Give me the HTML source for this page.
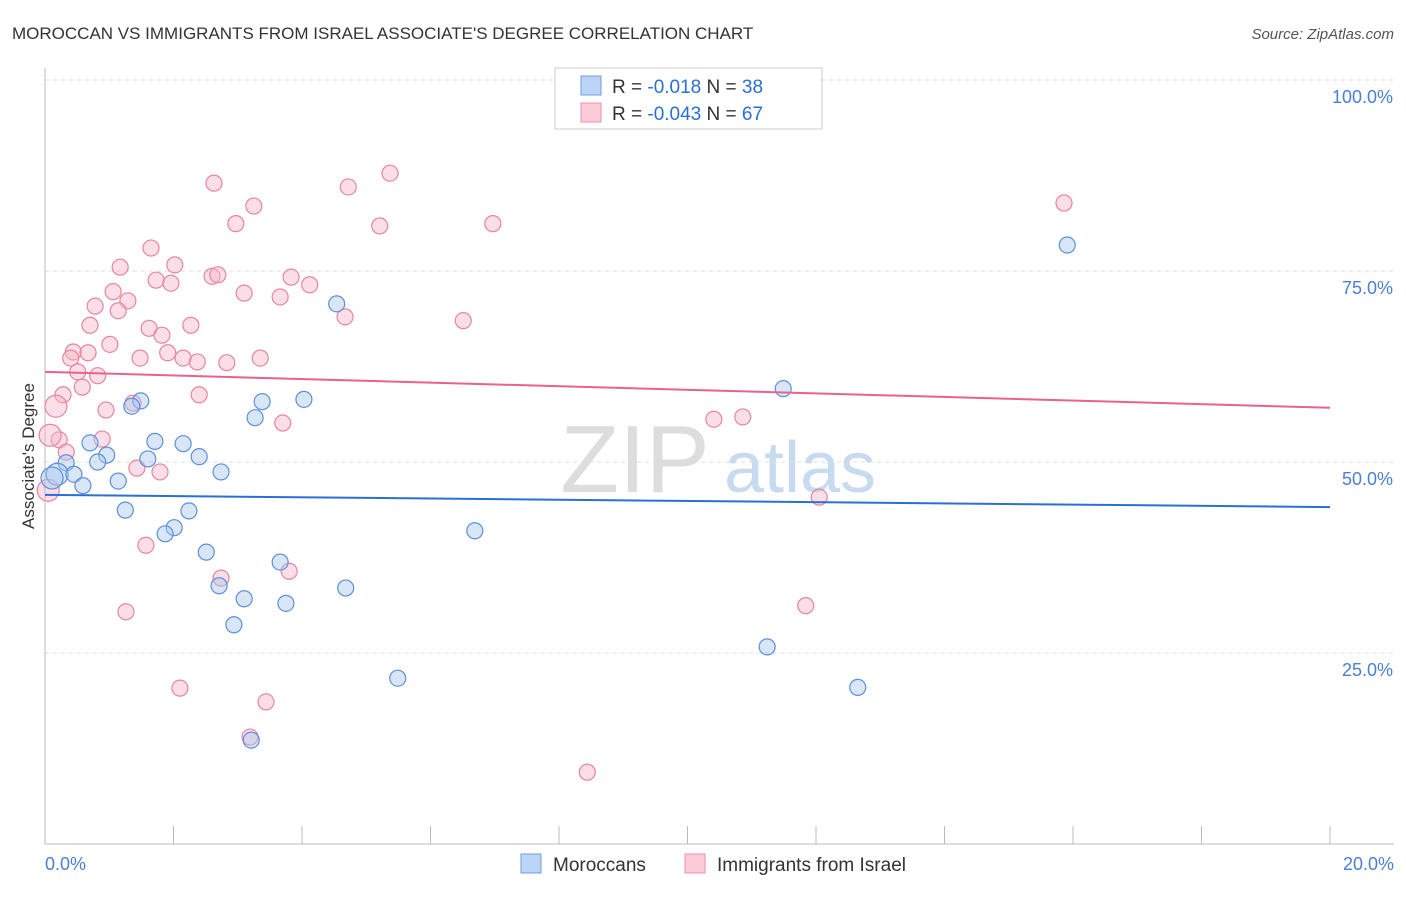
<!DOCTYPE html>
<html><head><meta charset="utf-8"><style>
body{margin:0;background:#fff;font-family:"Liberation Sans",sans-serif;}
svg text{font-family:"Liberation Sans",sans-serif;}
</style></head><body>
<svg id="chart" width="1406" height="892" xmlns="http://www.w3.org/2000/svg">
<text x="12" y="39" font-size="17" fill="#333">MOROCCAN VS IMMIGRANTS FROM ISRAEL ASSOCIATE'S DEGREE CORRELATION CHART</text>
<text x="1394" y="39" font-size="15" fill="#555" text-anchor="end" font-style="italic">Source: ZipAtlas.com</text>
<text x="635" y="492" font-size="96" fill="#ddd" font-family="Liberation Serif" text-anchor="middle">ZIP</text>
<text x="800" y="492" font-size="72" fill="#c8daf0" text-anchor="middle">atlas</text>
<g id="grid"></g><g id="axes"></g><g id="pts"></g><g id="trend"></g>
<text transform="translate(34,456) rotate(-90)" font-size="17" fill="#333" text-anchor="middle">Associate's Degree</text>
<text x="45" y="870" font-size="18" fill="#4a7fd4">0.0%</text>
<text x="1394" y="870" font-size="18" fill="#4a7fd4" text-anchor="end">20.0%</text>
<g>
<rect x="555" y="68" width="267" height="61" fill="#fff" stroke="#ccc"/>
<rect x="581" y="76" width="20" height="19" fill="#bcd4f5" stroke="#6c9de0"/>
<rect x="581" y="103" width="20" height="19" fill="#fbcbd8" stroke="#ec8fac"/>
<text x="612" y="93" font-size="19" fill="#333">R = <tspan fill="#2a6fd6">-0.018</tspan>  N = <tspan fill="#2a6fd6">38</tspan></text>
<text x="612" y="120" font-size="19" fill="#333">R = <tspan fill="#2a6fd6">-0.043</tspan>  N = <tspan fill="#2a6fd6">67</tspan></text>
</g>
<g>
<rect x="521" y="854" width="20" height="19" fill="#bcd4f5" stroke="#6c9de0"/>
<text x="553" y="871" font-size="19" fill="#333">Moroccans</text>
<rect x="685" y="854" width="20" height="19" fill="#fbcbd8" stroke="#ec8fac"/>
<text x="717" y="871" font-size="19" fill="#333">Immigrants from Israel</text>
</g>
</svg>
<script>
const blueX=[15.91,4.54,11.49,1.49,1.35,3.38,4.03,3.27,0.70,1.71,2.15,0.96,1.60,2.40,0.33,0.82,2.74,0.19,0.45,0.11,1.14,0.59,1.25,2.24,2.01,1.87,6.69,2.51,3.66,2.71,4.68,3.10,3.75,2.94,11.24,12.65,5.49,3.21];
const blueY=[78.4,70.7,59.6,58.0,57.3,57.9,58.2,55.8,52.5,52.7,52.4,50.9,50.4,50.7,49.9,50.0,48.7,48.4,48.4,47.9,47.5,46.9,43.7,43.6,41.4,40.6,41.0,38.2,36.9,33.8,33.5,32.1,31.5,28.7,25.8,20.5,21.7,13.6];
const pinkX=[15.86,5.37,2.63,4.72,3.25,2.97,5.21,6.97,1.65,1.17,2.02,1.73,1.96,2.60,2.69,3.83,4.12,3.10,1.06,3.66,1.29,0.78,1.14,4.67,6.51,0.70,1.62,2.27,1.82,1.01,0.44,0.67,1.91,0.40,1.48,2.15,2.37,3.35,2.83,0.51,0.82,0.58,2.40,0.28,1.37,0.17,0.95,3.70,10.41,10.86,0.89,0.22,0.33,0.08,1.43,1.79,0.05,12.05,1.57,2.74,3.80,1.26,11.84,2.10,3.44,3.19,8.44];
const pinkY=[83.9,87.8,86.5,86.0,83.5,81.2,80.9,81.2,78.0,75.5,75.8,73.8,73.4,74.3,74.5,74.2,73.2,72.1,72.3,71.6,71.1,70.4,69.8,69.0,68.5,67.9,67.5,67.9,66.6,65.4,64.4,64.3,64.3,63.6,63.6,63.6,63.1,63.6,63.0,61.8,61.3,59.8,58.8,58.8,57.7,57.3,56.8,55.1,55.6,55.9,53.0,52.9,51.3,53.5,49.2,48.7,46.3,45.4,39.1,34.8,35.7,30.4,31.2,20.4,18.6,14.0,9.4];
const blueTrend=[45.7,44.1];
const pinkTrend=[61.8,57.1];
const yTicks=[100,75,50,25];
const xTicks=[0,2,4,6,8,10,12,14,16,18,20];
const NS='http://www.w3.org/2000/svg';
const sx=v=>45+v/20*1285, sy=v=>844-v/100*764;
function mk(t,a,p){const e=document.createElementNS(NS,t);for(const k in a)e.setAttribute(k,a[k]);p.appendChild(e);return e;}
const grid=document.getElementById('grid'),axes=document.getElementById('axes'),pts=document.getElementById('pts'),tr=document.getElementById('trend');
yTicks.forEach(t=>{
 const l=mk('line',{x1:45,x2:1394,y1:sy(t),y2:sy(t),stroke:'#ddd','stroke-dasharray':'4,4'},grid);
 
 
 const tx=mk('text',{x:1393,y:sy(t)+23,'font-size':18,fill:'#4a7fd4','text-anchor':'end'},grid);
 tx.textContent=t.toFixed(1)+'%';
 
 
});
const xa=mk('line',{x1:45,x2:1394,y1:844,y2:844,stroke:'#bbb'},axes);


const ya=mk('line',{x1:45,x2:45,y1:68,y2:844,stroke:'#bbb'},axes);


xTicks.forEach(t=>{
 const l=mk('line',{x1:sx(t),x2:sx(t),y1:826,y2:844,stroke:'#bbb'},axes);
 
 
});
function dots(X,Y,fill,stroke,name){
 X.forEach((x,i)=>{
  const r=(x<0.2)?11:8;
  const c=mk('circle',{cx:sx(x),cy:sy(Y[i]),r:r,fill:fill,'fill-opacity':0.45,stroke:stroke,'stroke-width':1.2},pts);
  
  
 });
}
dots(pinkX,pinkY,'#f7b6c9','#e8859f','israel-point');
dots(blueX,blueY,'#a9c8f0','#5b90dc','moroccan-point');
const bt=mk('line',{x1:sx(0),x2:sx(20),y1:sy(blueTrend[0]),y2:sy(blueTrend[1]),stroke:'#2a6fd6','stroke-width':2},tr);


const pt=mk('line',{x1:sx(0),x2:sx(20),y1:sy(pinkTrend[0]),y2:sy(pinkTrend[1]),stroke:'#e8638c','stroke-width':2},tr);


</script>
</body></html>
